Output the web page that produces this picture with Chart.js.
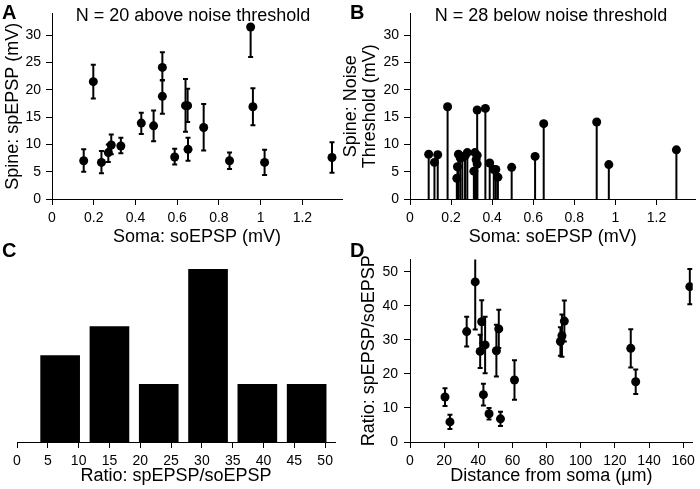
<!DOCTYPE html>
<html>
<head>
<meta charset="utf-8">
<script src="https://cdn.jsdelivr.net/npm/chart.js@4.4.0/dist/chart.umd.min.js"></script>
<style>
  body { margin: 0; background: #fff; }
  #fig { position: relative; width: 700px; height: 489px; overflow: hidden; font-family: 'Liberation Sans', Arial, sans-serif; color: #000; }
  canvas { position: absolute; }
  .letter { position: absolute; font-size: 20px; font-weight: bold; line-height: 20px; }
  .title { position: absolute; width: 300px; font-size: 18px; line-height: 18px; text-align: center; white-space: nowrap; }
</style>
</head>
<body>
<div id="fig">
  <canvas id="chartA" width="350" height="250" style="left:0;top:0"></canvas>
  <canvas id="chartB" width="370" height="250" style="left:330px;top:0"></canvas>
  <canvas id="chartC" width="350" height="244" style="left:0;top:245px"></canvas>
  <canvas id="chartD" width="350" height="244" style="left:350px;top:245px"></canvas>

  <div class="letter" style="left:2px;top:2px">A</div>
  <div class="letter" style="left:350px;top:2px">B</div>
  <div class="letter" style="left:2px;top:240px">C</div>
  <div class="letter" style="left:350px;top:240px">D</div>
  <div class="title" style="left:43px;top:6px">N = 20 above noise threshold</div>
  <div class="title" style="left:401px;top:6px">N = 28 below noise threshold</div>
</div>

<script>
// A: spine vs soma EPSP, events above noise threshold
const aSoma   = [0.152, 0.198, 0.237, 0.270, 0.284, 0.330, 0.428, 0.487, 0.529, 0.529, 0.588, 0.640, 0.650, 0.652, 0.727, 0.851, 0.952, 0.963, 1.019, 1.342];
const aSpine  = [7.0, 21.5, 6.7, 8.5, 9.9, 9.7, 13.9, 13.4, 24.1, 18.8, 7.7, 17.1, 17.1, 9.1, 13.1, 7.0, 31.5, 16.9, 6.7, 7.6];
const aErrLo  = [2.0, 3.1, 2.0, 1.7, 1.7, 1.3, 2.0, 2.8, 2.4, 3.2, 1.4, 4.8, 3.0, 2.1, 4.2, 1.5, 5.5, 3.4, 2.3, 2.8];
const aErrHi  = [2.1, 3.1, 2.1, 1.5, 1.9, 1.5, 1.9, 2.8, 2.8, 3.0, 1.5, 4.9, 3.1, 2.1, 4.3, 1.5, 0.0, 3.4, 2.3, 2.8];

// B: noise threshold for events below threshold
const bSoma  = [0.091, 0.119, 0.135, 0.183, 0.228, 0.231, 0.236, 0.245, 0.255, 0.268, 0.279, 0.311, 0.316, 0.322,
                0.327, 0.327, 0.327, 0.367, 0.388, 0.408, 0.418, 0.428, 0.495, 0.609, 0.651, 0.909, 0.968, 1.297];
const bNoise = [8.2, 6.7, 8.1, 16.9, 3.8, 5.9, 8.2, 7.5, 7.7, 7.9, 8.5, 5.1, 8.5, 7.2,
                8.0, 6.4, 16.3, 16.6, 6.6, 5.4, 5.4, 4.0, 5.8, 7.8, 13.8, 14.1, 6.3, 9.0];

// C: histogram of ratios
const cBinCenters = [7, 15, 23, 31, 39, 47];
const cCounts     = [3, 4, 2, 6, 2, 2];

// D: ratio vs distance from soma
const dDist  = [20.5, 23.4, 33.2, 38.2, 41.1, 42.0, 43.0, 44.0, 46.3, 50.6, 52.0, 53.0, 61.2, 88.1, 89.0, 90.4, 129.3, 132.2, 163.9];
const dRatio = [13.2, 5.9, 32.4, 47.0, 26.6, 35.3, 13.9, 28.5, 8.3, 26.8, 33.2, 6.8, 18.2, 29.5, 31.2, 35.5, 27.5, 17.7, 45.6];
const dErr   = [2.6, 2.1, 4.4, 14.0, 4.9, 6.3, 3.2, 8.3, 1.7, 7.6, 5.6, 2.1, 5.8, 4.2, 6.2, 6.0, 5.6, 3.6, 5.2];

// tick labels
const somaTicks  = [0, 0.2, 0.4, 0.6, 0.8, 1, 1.2];
const mvTicks    = [0, 5, 10, 15, 20, 25, 30];
const ratioTicks = [0, 5, 10, 15, 20, 25, 30, 35, 40, 45, 50];
const distTicks  = [0, 20, 40, 60, 80, 100, 120, 140, 160];
const dYTicks    = [0, 10, 20, 30, 40, 50];

Chart.defaults.font.family = "'Liberation Sans', Arial, sans-serif";
Chart.defaults.font.size = 14;
Chart.defaults.color = '#000';
Chart.defaults.animation = false;
Chart.defaults.events = [];
Chart.defaults.plugins.legend.display = false;
Chart.defaults.plugins.tooltip.enabled = false;

// vertical error bars (errLo/errHi) or stems from zero (stem: true)
const errorBars = {
  id: 'errorBars',
  beforeDatasetsDraw(chart) {
    const { ctx, chartArea, scales } = chart;
    ctx.save();
    ctx.beginPath();
    ctx.rect(chartArea.left, chartArea.top, chartArea.right - chartArea.left, chartArea.bottom - chartArea.top);
    ctx.clip();
    ctx.strokeStyle = '#000';
    ctx.lineWidth = 2;
    chart.data.datasets.forEach(ds => {
      if (!ds.errLo && !ds.stem) return;
      ds.data.forEach((p, i) => {
        const x = scales.x.getPixelForValue(p.x);
        const lo = ds.stem ? 0 : p.y - ds.errLo[i];
        const hi = ds.stem ? p.y : p.y + ds.errHi[i];
        const y1 = scales.y.getPixelForValue(lo);
        const y2 = scales.y.getPixelForValue(hi);
        ctx.beginPath();
        ctx.moveTo(x, y1);
        ctx.lineTo(x, y2);
        if (!ds.stem) {
          if (ds.errLo[i] > 0) { ctx.moveTo(x - 2.5, y1); ctx.lineTo(x + 2.5, y1); }
          if (ds.errHi[i] > 0) { ctx.moveTo(x - 2.5, y2); ctx.lineTo(x + 2.5, y2); }
        }
        ctx.stroke();
      });
    });
    ctx.restore();
  }
};

function axis(o) {
  return {
    type: 'linear',
    display: o.display !== false,
    min: o.min,
    max: o.max,
    offset: false,
    afterBuildTicks: s => { s.ticks = o.ticks.map(v => ({ value: v })); },
    afterFit: s => {
      if (s.isHorizontal()) s.height = o.size;
      else s.width = o.size;
    },
    ticks: { color: '#000', padding: o.tickPad, maxRotation: 0, autoSkip: false, callback: v => String(v) },
    grid: { drawOnChartArea: false, drawTicks: true, tickLength: 6, tickColor: '#000', offset: false },
    border: { display: true, color: '#000', width: 1 },
    title: {
      display: !!o.title,
      text: o.title,
      color: '#000',
      font: { size: 18, lineHeight: o.lh || 1.2 },
      padding: o.titlePad,
    },
  };
}

function points(xs, ys) {
  return xs.map((x, i) => ({ x, y: ys[i] }));
}

function dotStyle() {
  return { pointRadius: 4.5, pointBackgroundColor: '#000', pointBorderWidth: 0, showLine: false };
}

// A
new Chart(document.getElementById('chartA'), {
  type: 'scatter',
  data: { datasets: [{ data: points(aSoma, aSpine), errLo: aErrLo, errHi: aErrHi, ...dotStyle() }] },
  options: {
    responsive: false,
    layout: { padding: { left: 0, top: 13, right: 8, bottom: 0 } },
    scales: {
      x: axis({ min: 0, max: 1.39, ticks: somaTicks, size: 51, tickPad: 5, title: 'Soma: soEPSP (mV)', titlePad: { top: 0, bottom: 2 } }),
      y: axis({ min: 0, max: 34, ticks: mvTicks, size: 52, tickPad: 5, title: 'Spine: spEPSP (mV)', titlePad: { top: 2, bottom: 0 } }),
    },
  },
  plugins: [errorBars],
});

// B
new Chart(document.getElementById('chartB'), {
  type: 'scatter',
  data: { datasets: [{ data: points(bSoma, bNoise), stem: true, ...dotStyle() }] },
  options: {
    responsive: false,
    layout: { padding: { left: 0, top: 13, right: 2, bottom: 0 } },
    scales: {
      x: axis({ min: 0, max: 1.39, ticks: somaTicks, size: 51, tickPad: 5, title: 'Soma: soEPSP (mV)', titlePad: { top: 0, bottom: 2 } }),
      y: axis({ min: 0, max: 34, ticks: mvTicks, size: 80, tickPad: 5, title: ['Spine: Noise', 'Threshold (mV)'], lh: 1.03, titlePad: { top: 12, bottom: 0 } }),
    },
  },
  plugins: [errorBars],
});

// C
new Chart(document.getElementById('chartC'), {
  type: 'bar',
  data: {
    datasets: [{
      data: points(cBinCenters, cCounts),
      backgroundColor: '#000',
      borderWidth: 0,
      barThickness: 39,
    }],
  },
  options: {
    responsive: false,
    layout: { padding: { left: 17, top: 24, right: 15, bottom: 0 } },
    scales: {
      x: axis({ min: 0, max: 51.6, ticks: ratioTicks, size: 47, tickPad: 5, title: 'Ratio: spEPSP/soEPSP', titlePad: { top: 0, bottom: 2 } }),
      y: { type: 'linear', display: false, min: 0, max: 6 },
    },
  },
});

// D
new Chart(document.getElementById('chartD'), {
  type: 'scatter',
  data: { datasets: [{ data: points(dDist, dRatio), errLo: dErr, errHi: dErr, ...dotStyle() }] },
  options: {
    responsive: false,
    layout: { padding: { left: 0, top: 13, right: 2, bottom: 0 } },
    scales: {
      x: axis({ min: 0, max: 165.6, ticks: distTicks, size: 47, tickPad: 5, title: 'Distance from soma (\u03bcm)', titlePad: { top: 0, bottom: 2 } }),
      y: axis({ min: 0, max: 53.6, ticks: dYTicks, size: 60, tickPad: 6, title: 'Ratio: spEPSP/soEPSP', titlePad: { top: 8, bottom: 0 } }),
    },
  },
  plugins: [errorBars],
});
</script>
</body>
</html>
